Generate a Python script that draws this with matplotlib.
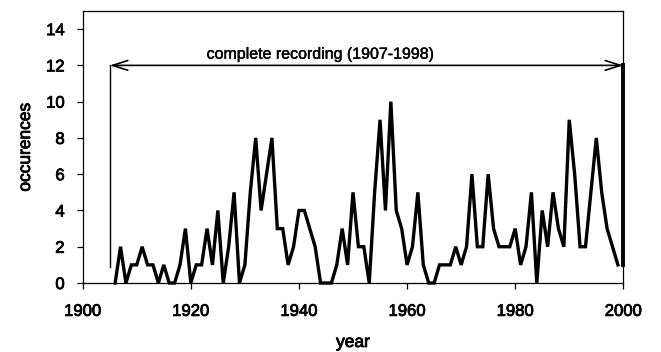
import matplotlib
matplotlib.use("Agg")
import matplotlib.pyplot as plt
import matplotlib.patheffects as pe

# yearly counts of recorded occurrences
years = list(range(1906, 2000))
occurrences = [
    0, 2, 0, 1, 1, 2, 1, 1, 0, 1,   # 1906-1915
    0, 0, 1, 3, 0, 1, 1, 3, 1, 4,   # 1916-1925
    0, 2, 5, 0, 1, 5, 8, 4, 6, 8,   # 1926-1935
    3, 3, 1, 2, 4, 4, 3, 2, 0, 0,   # 1936-1945
    0, 1, 3, 1, 5, 2, 2, 0, 5, 9,   # 1946-1955
    4, 10, 4, 3, 1, 2, 5, 1, 0, 0,  # 1956-1965
    1, 1, 1, 2, 1, 2, 6, 2, 2, 6,   # 1966-1975
    3, 2, 2, 2, 3, 1, 2, 5, 0, 4,   # 1976-1985
    2, 5, 3, 2, 9, 6, 2, 2, 5, 8,   # 1986-1995
    5, 3, 2, 1,                     # 1996-1999
]

x_ticks = [1900, 1920, 1940, 1960, 1980, 2000]
y_ticks = [0, 2, 4, 6, 8, 10, 12, 14]

span_start, span_end = 1905, 2000
span_level = 12
span_label = "complete recording (1907-1998)"

plt.rcParams['font.family'] = ['Liberation Sans', 'DejaVu Sans']

# slightly heavier strokes for axis text
heavy = [pe.withStroke(linewidth=0.6, foreground='black')]

fig = plt.figure(figsize=(6.61, 3.52), dpi=100)
ax = fig.add_axes([0.1251, 0.196, 0.8179, 0.7728])

ax.plot(years, occurrences, color='black', lw=2.4, solid_joinstyle='miter',
        clip_on=False, zorder=3)

# bracket marking the complete recording period
ax.plot([span_start, span_start], [0.9, span_level], color='black', lw=1.0)
ax.plot([span_end, span_end], [1.0, span_level], color='black', lw=2.8,
        clip_on=False)
ax.annotate('', xy=(span_end, span_level), xytext=(span_start, span_level),
            arrowprops=dict(arrowstyle='<->,head_length=1.1,head_width=0.35',
                            lw=1.2, color='black', shrinkA=0, shrinkB=0,
                            mutation_scale=10))
ax.text(1944, 12.37, span_label, ha='center', va='baseline', fontsize=11.5,
        path_effects=[pe.withStroke(linewidth=0.3, foreground='black')])

ax.set_xlim(1900, 2000)
ax.set_ylim(0, 15)
ax.set_xticks(x_ticks)
ax.set_yticks(y_ticks)
ax.tick_params(axis='x', direction='out', length=4, width=0.9, pad=11,
               labelsize=12)
ax.tick_params(axis='y', direction='out', length=4, width=0.9, pad=9,
               labelsize=12)
for lab in ax.get_xticklabels() + ax.get_yticklabels():
    lab.set_path_effects(heavy)
for sp in ax.spines.values():
    sp.set_linewidth(0.9)

ax.set_xlabel('year', fontsize=12.5, path_effects=heavy)
ax.xaxis.set_label_coords(0.5, -0.191)
ax.set_ylabel('occurences', fontsize=12.5, path_effects=heavy)
ax.yaxis.set_label_coords(-0.092, 0.5)

fig.savefig('out.png', dpi=100)
